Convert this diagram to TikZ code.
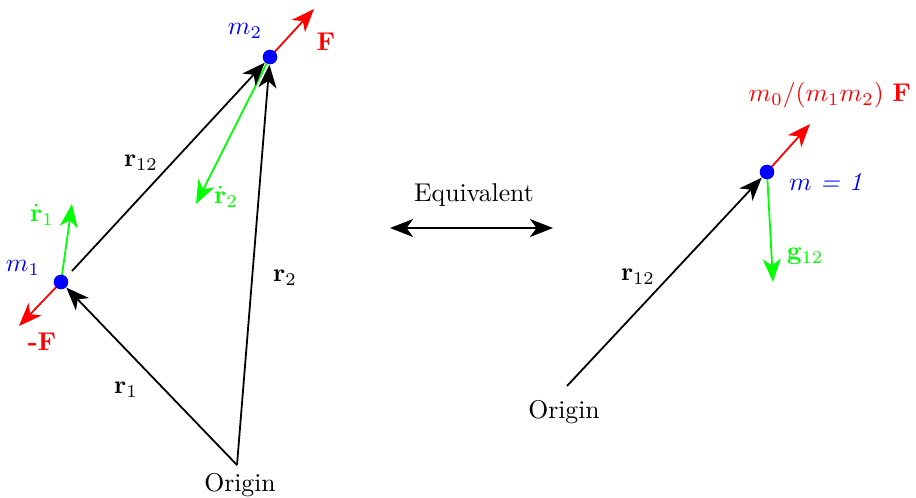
\documentclass[tikz,border=0pt]{standalone}
\usetikzlibrary{arrows.meta}
\begin{document}
\begin{tikzpicture}[x=0.3893pt,y=-0.3893pt,
  tip/.tip={Stealth[length=9pt,width=7pt,inset=2.6pt]},
  vec/.style={line width=0.7pt,-tip},
  mass/.style={circle,fill=blue,inner sep=0pt,minimum size=5.6pt},
  lbl/.style={inner sep=1pt}]
\useasboundingbox (0,0) rectangle (916,497);
% left system
\coordinate (O1) at (237,465);
\node[lbl,anchor=north] (orig1) at (240,470) {Origin};
\node[mass] (m1) at (61,282) {};
\node[mass] (m2) at (270,57) {};
\coordinate (r12s) at (72,271);
\coordinate (v1) at (72,204);
\coordinate (v2) at (196,204);
\coordinate (f2) at (314,9);
\coordinate (f1) at (19,326);
\draw[vec,green] (m2.center) -- (v2);
\draw[vec,green] (m1.center) -- (v1);
\draw[vec] (O1) -- (m1);
\draw[vec] (O1) -- (m2);
\draw[vec] (r12s) -- (m2);
\draw[vec,red] (m2.center) -- (f2);
\draw[vec,red] (m1.center) -- (f1);
\node[mass] at (m1) {};
\node[mass] at (m2) {};
\node[lbl,blue] (lm2) at (245,31) {$m_2$};
\node[lbl,blue] (lm1) at (23,268) {$m_1$};
\node[lbl,red] (lF) at (326,42) {$\mathbf{F}$};
\node[lbl,red] (lmF) at (42,342) {\textbf{-F}};
\node[lbl] (lr12) at (141,163) {$\mathbf{r}_{12}$};
\node[lbl] (lr2) at (285,278) {$\mathbf{r}_2$};
\node[lbl] (lr1) at (126,390) {$\mathbf{r}_1$};
\node[lbl,green] (lv1) at (42,215) {$\dot{\mathbf{r}}_1$};
\node[lbl,green] (lv2) at (226,197) {$\dot{\mathbf{r}}_2$};
% equivalence
\node[lbl] (eq) at (474,195) {Equivalent};
\coordinate (eqL) at (390,228);
\coordinate (eqR) at (553,228);
\draw[line width=0.7pt,tip-tip] (eqL) -- (eqR);
% right system
\coordinate (O2) at (567,386);
\node[lbl,anchor=north] (orig2) at (564,397) {Origin};
\node[mass] (m) at (767,172) {};
\coordinate (fm) at (810,124);
\coordinate (g) at (773,282);
\draw[vec] (O2) -- (m);
\draw[vec,red] (m.center) -- (fm);
\draw[vec,green] (m.center) -- (g);
\node[mass] at (m) {};
\node[lbl,red,anchor=east] (lfm) at (914,95) {$m_0/(m_1m_2)$ $\mathbf{F}$};
\node[lbl,blue,anchor=west] (lm) at (786,182) {$m$ \textit{= 1}};
\node[lbl,green] (lg) at (805,256) {$\mathbf{g}_{12}$};
\node[lbl] (lr12b) at (638,277) {$\mathbf{r}_{12}$};
\end{tikzpicture}
\end{document}
